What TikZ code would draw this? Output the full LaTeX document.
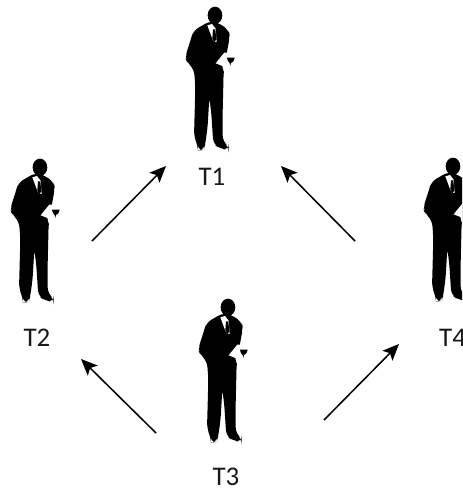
\documentclass[tikz,border=0pt]{standalone}
\usepackage{fontspec}
\setmainfont{Carlito}
\usetikzlibrary{arrows.meta}
\tikzset{
  label/.style={font=\fontsize{23}{23}\selectfont,inner sep=0pt,text=black!90},
  flow/.style={line width=1.3pt,-{Stealth[length=14pt,width=12pt,inset=3pt]}},
  man/.pic={
    \begin{scope}[x=0.01cm,y=-0.01cm]
    \fill[black] (135,46) ellipse (22 and 26);
    % body
    \fill[black,rounded corners=5pt] (122,62) -- (70,92) -- (62,120) -- (45,172) -- (52,188) -- (72,207)
      -- (76,260) -- (74,340) -- (72,410) -- (83,436) -- (84,452) -- (102,450) -- (106,432)
      -- (113,380) -- (118,292) -- (124,340) -- (130,432) -- (150,446) -- (176,450) -- (176,440)
      -- (158,424) -- (158,340) -- (161,215) -- (172,150) -- (180,108) -- (176,90) -- (148,70) -- cycle;
    % shirt, tie
    \fill[white] (112,76) -- (126,72) -- (137,86) -- (140,126) -- (130,124) -- cycle;
    \fill[black] (129,88) -- (136,88) -- (139,118) -- (133,128) -- (127,116) -- cycle;
    % paper
    \fill[white] (137,190) -- (163,158) -- (172,158) -- (170,215) -- (161,214) -- (157,198) -- cycle;
    % glass
    \fill[black] (171,173) -- (194,173) .. controls (192,186) and (185,188) .. (183,189) -- (181,198) -- (179,189) .. controls (175,186) and (172,182) .. cycle;
    \end{scope}
  }
}
\begin{document}
\begin{tikzpicture}[x=0.03cm,y=-0.03cm]
\path[use as bounding box,clip] (0,0) rectangle (462,491);

\pic (man1) at (170,0) {man};
\pic (man2) at (-5,152) {man};
\pic (man3) at (183,292) {man};
\pic (man4) at (408,151) {man};

\node[label] (t1) at (212,177) {T1};
\node[label] (t2) at (37,338) {T2};
\node[label] (t3) at (226,477) {T3};
\node[label,anchor=west] (t4) at (439,338) {T4};

\coordinate (a1) at (92,241);
\coordinate (b1) at (166,166);
\coordinate (a2) at (355,241);
\coordinate (b2) at (281,166);
\coordinate (a3) at (156,433);
\coordinate (b3) at (81,359);
\coordinate (a4) at (324,420);
\coordinate (b4) at (399,344);

\draw[flow] (a1) -- (b1);
\draw[flow] (a2) -- (b2);
\draw[flow] (a3) -- (b3);
\draw[flow] (a4) -- (b4);
\end{tikzpicture}
\end{document}
